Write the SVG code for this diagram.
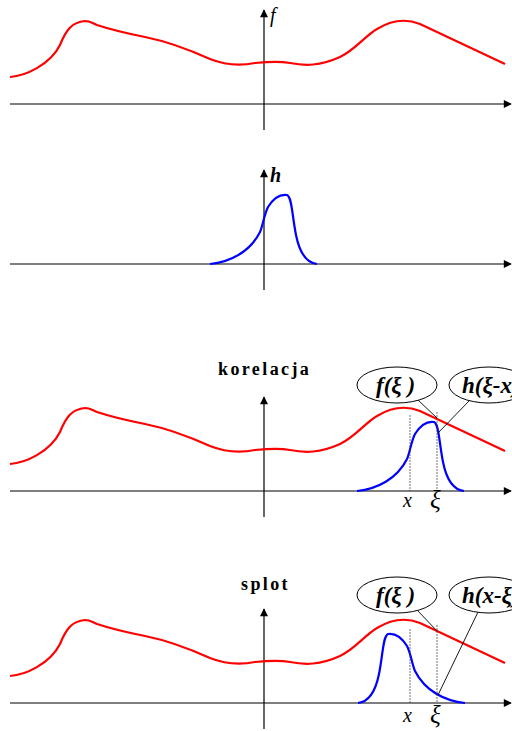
<svg xmlns="http://www.w3.org/2000/svg" xmlns:xlink="http://www.w3.org/1999/xlink" width="512" height="731" viewBox="0 0 512 731">
<style>
.ax{stroke:#000;stroke-width:1.2;fill:none}
.red{stroke:#f00;stroke-width:2.2;fill:none}
.blue{stroke:#00f;stroke-width:2.2;fill:none}
.dash{stroke:#333;stroke-width:0.7;stroke-dasharray:2,1;fill:none}
.lead{stroke:#000;stroke-width:0.9;fill:none}
.ell{stroke:#000;stroke-width:1;fill:#fff}
.lbl{font-family:"Liberation Serif",serif;font-style:italic;font-weight:bold;font-size:23px;fill:#000}
.var{font-family:"Liberation Serif",serif;font-style:italic;font-size:20px;fill:#000}
.xi{font-family:"Liberation Serif",serif;font-style:italic;font-size:25px;fill:#000}
.title{font-family:"Liberation Serif",serif;font-weight:bold;font-size:18px;letter-spacing:2.4px;fill:#000}
</style>
<defs>
<marker id="ar" viewBox="0 0 10 10" refX="9" refY="5" markerWidth="9" markerHeight="8" markerUnits="userSpaceOnUse" orient="auto">
<path d="M0,0 L10,5 L0,10 Z" fill="#000"/>
</marker>
<path id="fcurve" d="M10,77 C25,76 50,65 60,45 C66,30 72,22 85,21 C90,21 92,23 97,25 C115,31 130,34 145,37 C170,42 190,50 210,59 C225,65 240,66 255,63 C265,62 280,61 290,63 C305,66 320,66 340,57 C355,50 365,36 377,29 C390,21 405,18 420,24 L505,64"/>
<path id="hcurve" d="M210,264 C230,262 250,252 260,232 C263,225 264,215 268,207 C273,199 280,194 287,195 C292,197 292,215 296,235 C300,255 308,263 317,264"/>
</defs>

<g id="panel-f">
<line class="ax" x1="10" y1="104" x2="511" y2="104" marker-end="url(#ar)"/>
<line class="ax" x1="264" y1="130" x2="264" y2="10" marker-end="url(#ar)"/>
<use href="#fcurve" class="red"/>
<text class="var" x="270" y="22">f</text>
</g>

<g id="panel-h">
<line class="ax" x1="10" y1="264" x2="511" y2="264" marker-end="url(#ar)"/>
<line class="ax" x1="264" y1="290" x2="264" y2="170" marker-end="url(#ar)"/>
<use href="#hcurve" class="blue"/>
<text class="var" x="270" y="182" font-weight="bold">h</text>
</g>

<g id="panel-korelacja">
<text class="title" x="218" y="375">korelacja</text>
<line class="ax" x1="10" y1="491" x2="511" y2="491" marker-end="url(#ar)"/>
<line class="ax" x1="264" y1="517" x2="264" y2="397" marker-end="url(#ar)"/>
<use href="#fcurve" class="red" transform="translate(0,387)"/>
<use href="#hcurve" class="blue" transform="translate(147,227)"/>
<line class="dash" x1="410" y1="415" x2="410" y2="491"/>
<line class="dash" x1="437" y1="412" x2="437" y2="491"/>
<text class="var" x="403" y="507">x</text>
<text class="xi" x="430" y="508">ξ</text>
</g>

<g id="panel-splot">
<text class="title" x="241" y="590">splot</text>
<line class="ax" x1="10" y1="703" x2="511" y2="703" marker-end="url(#ar)"/>
<line class="ax" x1="264" y1="729" x2="264" y2="609" marker-end="url(#ar)"/>
<use href="#fcurve" class="red" transform="translate(0,599)"/>
<use href="#hcurve" class="blue" transform="matrix(-1,0,0,1,675,439)"/>
<line class="dash" x1="410" y1="629" x2="410" y2="703"/>
<line class="dash" x1="437" y1="625" x2="437" y2="703"/>
<text class="var" x="403" y="722">x</text>
<text class="xi" x="430" y="723">ξ</text>
</g>

<g id="connectors">
<line class="lead" x1="418" y1="400" x2="437" y2="418"/>
<line class="lead" x1="470" y1="400" x2="438" y2="433"/>
<line class="lead" x1="418" y1="611" x2="437" y2="631"/>
<line class="lead" x1="478" y1="612" x2="438" y2="695"/>
</g>

<g id="label-f-xi-1">
<ellipse class="ell" cx="397" cy="385" rx="40" ry="18"/>
<text class="lbl" x="376" y="393">f(ξ )</text>
</g>
<g id="label-h-xi-x">
<ellipse class="ell" cx="489" cy="385" rx="40" ry="18"/>
<text class="lbl" x="462" y="393">h(ξ-x)</text>
</g>
<g id="label-f-xi-2">
<ellipse class="ell" cx="397" cy="595" rx="40" ry="18"/>
<text class="lbl" x="376" y="603">f(ξ )</text>
</g>
<g id="label-h-x-xi">
<ellipse class="ell" cx="489" cy="595" rx="40" ry="18"/>
<text class="lbl" x="462" y="603">h(x-ξ)</text>
</g>
</svg>
